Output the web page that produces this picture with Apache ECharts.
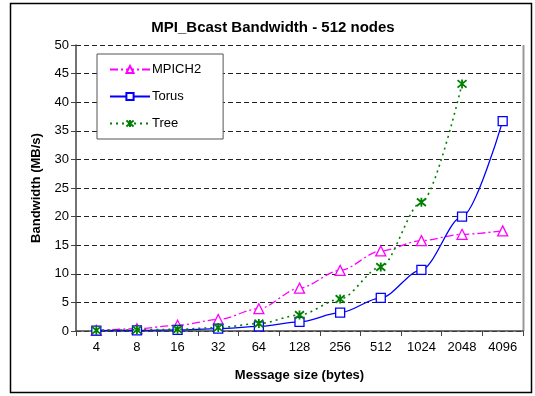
<!DOCTYPE html>
<html><head><meta charset="utf-8">
<script src="https://cdn.jsdelivr.net/npm/echarts@6/dist/echarts.min.js"></script>
<style>html,body{margin:0;padding:0;background:#fff}#c{width:535px;height:396px}</style>
</head><body><div id="c"></div>
<script>
const categories = ['4','8','16','32','64','128','256','512','1024','2048','4096'];
const mpich2 = [0.1, 0.4, 1.0, 2.0, 3.9, 7.5, 10.6, 14.0, 15.8, 16.9, 17.5];
const torus  = [0.05, 0.1, 0.2, 0.4, 0.8, 1.6, 3.2, 5.8, 10.7, 20.0, 36.7];
const tree   = [0.1, 0.2, 0.3, 0.6, 1.3, 2.8, 5.6, 11.2, 22.5, 43.2, null];
const yTicks = [0, 5, 10, 15, 20, 25, 30, 35, 40, 45, 50];

const font = 'Arial, "Liberation Sans", sans-serif';
const asterisk = 'path://M0,0L10,10M10,0L0,10M5,-1L5,11';
const chart = echarts.init(document.getElementById('c'), null, {renderer:'canvas'});
chart.setOption({
  backgroundColor:'#fff',
  animation:false,
  title:{text:'MPI_Bcast Bandwidth - 512 nodes', left:268, top:15, textAlign:'center',
    textStyle:{fontFamily:font, fontSize:15, fontWeight:'bold', color:'#000'}},
  graphic:[{type:'rect', shape:{x:10.5,y:3.5,width:521,height:389}, style:{fill:'none', stroke:'#000', lineWidth:1.5}, silent:true},
           {type:'line', shape:{x1:523.5,y1:45,x2:523.5,y2:331}, style:{stroke:'#999', lineWidth:2}, silent:true}],
  legend:{orient:'vertical', left:97, top:54, width:126, height:81,
    backgroundColor:'#fff', borderColor:'#555', borderWidth:1,
    padding:[9,22,9,12], itemGap:14, itemWidth:40, itemHeight:9,
    textStyle:{fontFamily:font, fontSize:13, color:'#000', padding:[0,0,0,-3]},
    data:['MPICH2','Torus','Tree']},
  grid:{left:76, right:12, top:45, bottom:65},
  xAxis:{type:'category', data:categories, boundaryGap:true,
    name:'Message size (bytes)', nameLocation:'middle', nameGap:38,
    nameTextStyle:{fontFamily:font, fontSize:13, fontWeight:'bold', color:'#000'},
    axisLine:{lineStyle:{color:'#444', width:1.5}},
    axisTick:{show:true, length:5, lineStyle:{color:'#444'}},
    axisLabel:{fontFamily:font, fontSize:13, color:'#000', margin:10}},
  yAxis:{type:'value', min:0, max:50, interval:5,
    name:'Bandwidth (MB/s)', nameLocation:'middle', nameGap:33,
    nameTextStyle:{fontFamily:font, fontSize:13, fontWeight:'bold', color:'#000'},
    axisLine:{show:true, lineStyle:{color:'#444', width:1.5}},
    axisTick:{show:true, length:5, lineStyle:{color:'#444'}},
    axisLabel:{fontFamily:font, fontSize:13, color:'#000', margin:7},
    splitLine:{show:true, lineStyle:{color:'#222', type:[5,3], width:1}}},
  series:[
    {name:'MPICH2', type:'line', data:mpich2, smooth:0.3, smoothMonotone:'x',
     symbol:'triangle', symbolSize:10, showAllSymbol:true,
     lineStyle:{color:'#FF00FF', width:1.3, type:[8,3,2,3]},
     itemStyle:{color:'#fff', borderColor:'#FF00FF', borderWidth:1.3}, z:3},
    {name:'Torus', type:'line', data:torus, smooth:0.3, smoothMonotone:'x',
     symbol:'rect', symbolSize:9, showAllSymbol:true,
     lineStyle:{color:'#0000FF', width:1.3},
     itemStyle:{color:'#fff', borderColor:'#0000FF', borderWidth:1.3}, z:4},
    {name:'Tree', type:'line', data:tree, smooth:0.3, smoothMonotone:'x',
     symbol:asterisk, symbolSize:9, showAllSymbol:true,
     lineStyle:{color:'#008000', width:1.6, type:[2,4]},
     itemStyle:{color:'#008000', borderColor:'#008000', borderWidth:1.8}, z:5}
  ]
});
</script></body></html>
